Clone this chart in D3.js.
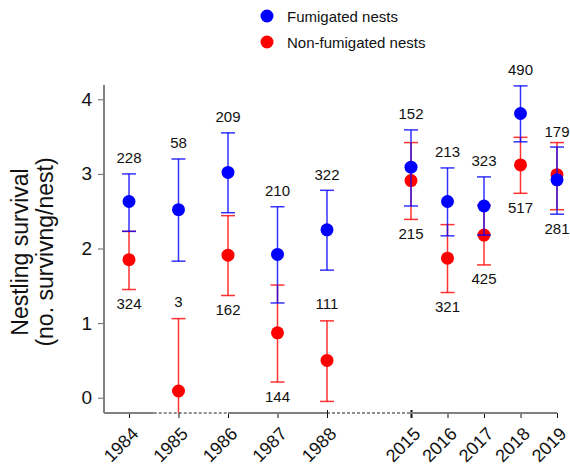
<!doctype html>
<html lang="en">
<head>
  <meta charset="utf-8">
  <title>Nestling survival</title>
  <script type="text/javascript" src="https://cdnjs.cloudflare.com/ajax/libs/d3/7.8.5/d3.min.js"></script>
  <style>
    body { margin: 0; background: #fff; }
    text { font-family: "Liberation Sans", Arial, sans-serif; fill: #111; }
  </style>
</head>
<body>
  <svg width="570" height="468" id="svg"></svg>

<script type="text/javascript">

  // values
  var years = [1984, 1985, 1986, 1987, 1988, 2015, 2016, 2017, 2018, 2019];

  var fumMean = [2.63, 2.52, 3.02, 1.92, 2.25, 3.09, 2.63, 2.57, 3.81, 2.92];
  var fumLo   = [2.23, 1.83, 2.48, 1.27, 1.71, 2.57, 2.17, 2.18, 3.43, 2.46];
  var fumHi   = [3.00, 3.20, 3.55, 2.56, 2.78, 3.59, 3.08, 2.96, 4.18, 3.36];
  var fumN    = [228, 58, 209, 210, 322, 152, 213, 323, 490, 179];

  var nonMean = [1.85, 0.09, 1.91, 0.87, 0.50, 2.91, 1.87, 2.18, 3.12, 2.99];
  var nonLo   = [1.45, -0.88, 1.37, 0.21, -0.05, 2.39, 1.41, 1.78, 2.74, 2.52];
  var nonHi   = [2.23, 1.06, 2.44, 1.51, 1.03, 3.42, 2.32, 2.58, 3.49, 3.42];
  var nonN    = [324, 3, 162, 144, 111, 215, 321, 425, 517, 281];

  // where the non-fumigated n sits relative to its bar
  var nonLabelSide = ['below', 'above', 'below', 'below', 'above',
                      'below', 'below', 'below', 'below', 'below'];

  var yTicks = [0, 1, 2, 3, 4];

  var seriesNames = ['Fumigated nests', 'Non-fumigated nests'];
  var seriesColors = ['#0000ff', '#ff0000'];

  var axisX = 104, axisY = 413, plotTop = 85;

  // broken axis: two sections with their own spacing
  var x = d3.scaleLinear()
        .domain([1984, 1988, 2015, 2019])
        .range([129, 327, 411, 557]);

  var y = d3.scaleLinear()
        .domain([0, 4])
        .range([397.7, 99.3]);

  var svg = d3.select('#svg');

  svg.append('defs').append('clipPath')
    .attr('id', 'plotclip')
    .append('rect')
    .attr('x', axisX).attr('y', plotTop)
    .attr('width', 570 - axisX).attr('height', axisY - plotTop);

  // y axis
  var gy = svg.append('g')
    .attr('transform', 'translate(' + axisX + ',0)')
    .call(d3.axisLeft(y).tickValues(yTicks).tickFormat(d3.format('d')).tickSize(6).tickPadding(6));
  gy.select('.domain').remove();
  gy.selectAll('.tick line').attr('stroke', '#666');
  gy.selectAll('.tick text')
    .style('font-size', '19px')
    .attr('fill', '#111');

  gy.append('line')
    .attr('x1', 0).attr('x2', 0)
    .attr('y1', plotTop).attr('y2', axisY)
    .attr('stroke', '#808080')
    .attr('stroke-width', 2);

  // x axis
  var gx = svg.append('g')
    .attr('transform', 'translate(0,' + axisY + ')')
    .call(d3.axisBottom(x).tickValues(years).tickFormat(d3.format('d')).tickSize(5));
  gx.select('.domain').remove();

  var segments = [
    {from: 1983.5, to: 1984.5, dash: false},
    {from: 1984.5, to: 1986, dash: true},
    {from: 1986, to: 1988, dash: false},
    {from: 1988, to: 2015, dash: true},
    {from: 2015, to: 2019, dash: false}
  ];

  gx.selectAll('.seg')
    .data(segments)
    .enter()
    .append('line')
    .attr('class', 'seg')
    .attr('x1', function(d) { return d.from == 1983.5 ? axisX : x(d.from); })
    .attr('x2', function(d) { return x(d.to); })
    .attr('y1', 0).attr('y2', 0)
    .attr('stroke', function(d) { return d.dash ? '#222' : '#808080'; })
    .attr('stroke-width', function(d) { return d.dash ? 1 : 2; })
    .attr('stroke-dasharray', function(d) { return d.dash ? '3,2' : null; });

  gx.selectAll('.tick line')
    .attr('stroke', '#111')
    .attr('y1', function(d) { return (d == 1988 || d == 2015) ? -3 : 0; })
    .attr('stroke-width', function(d) { return d == 2015 ? 2 : 1; });

  gx.selectAll('.tick text')
    .style('font-size', '18px')
    .attr('fill', '#111')
    .attr('text-anchor', 'end')
    .attr('x', 0).attr('y', 0).attr('dy', 0)
    .attr('transform', 'translate(10,22) rotate(-45)');

  // axis title
  var ylab = svg.append('g');
  ylab.append('text')
    .attr('transform', 'translate(28,252) rotate(-90)')
    .attr('text-anchor', 'middle')
    .style('font-size', '23px')
    .text('Nestling survival');
  ylab.append('text')
    .attr('transform', 'translate(53,252) rotate(-90)')
    .attr('text-anchor', 'middle')
    .style('font-size', '23px')
    .text('(no. survivng/nest)');

  // build one row per year and series
  function rows(mean, lo, hi) {
    return years.map(function(yr, i) {
      return {year: yr, mean: mean[i], lo: lo[i], hi: hi[i]};
    });
  }
  var fum = rows(fumMean, fumLo, fumHi);
  var non = rows(nonMean, nonLo, nonHi);

  var capW = 7;

  function drawSeries(data, color) {
    var g = svg.append('g').attr('clip-path', 'url(#plotclip)');

    var bars = g.selectAll('g.bar')
      .data(data)
      .enter()
      .append('g')
      .attr('class', 'bar')
      .attr('stroke', color)
      .attr('stroke-width', 1.5)
      .attr('stroke-opacity', 0.8);

    bars.append('line')
      .attr('x1', function(d) { return x(d.year); })
      .attr('x2', function(d) { return x(d.year); })
      .attr('y1', function(d) { return y(d.lo); })
      .attr('y2', function(d) { return y(d.hi); });

    bars.append('line')
      .attr('x1', function(d) { return x(d.year) - capW; })
      .attr('x2', function(d) { return x(d.year) + capW; })
      .attr('y1', function(d) { return y(d.hi); })
      .attr('y2', function(d) { return y(d.hi); });

    bars.append('line')
      .attr('x1', function(d) { return x(d.year) - capW; })
      .attr('x2', function(d) { return x(d.year) + capW; })
      .attr('y1', function(d) { return y(d.lo); })
      .attr('y2', function(d) { return y(d.lo); });

    g.selectAll('circle')
      .data(data)
      .enter()
      .append('circle')
      .attr('cx', function(d) { return x(d.year); })
      .attr('cy', function(d) { return y(d.mean); })
      .attr('r', 6.5)
      .attr('fill', color);
  }

  drawSeries(non, seriesColors[1]);
  drawSeries(fum, seriesColors[0]);

  // sample sizes
  svg.append('g')
    .selectAll('text')
    .data(years)
    .enter()
    .append('text')
    .attr('x', function(d) { return x(d); })
    .attr('y', function(d, i) { return y(fumHi[i]) - 10.5; })
    .attr('text-anchor', 'middle')
    .style('font-size', '15px')
    .text(function(d, i) { return fumN[i]; });

  svg.append('g')
    .selectAll('text')
    .data(years)
    .enter()
    .append('text')
    .attr('x', function(d) { return x(d); })
    .attr('y', function(d, i) {
      if (nonLabelSide[i] == 'above') return y(nonHi[i]) - 11.5;
      return y(Math.min(nonLo[i], fumLo[i])) + 19.5;
    })
    .attr('text-anchor', 'middle')
    .style('font-size', '15px')
    .text(function(d, i) { return nonN[i]; });

  // legend
  var legend = svg.append('g')
    .selectAll('g')
    .data(seriesNames)
    .enter()
    .append('g')
    .attr('transform', function(d, i) { return 'translate(267,' + (16 + i * 26) + ')'; });

  legend.append('circle')
    .attr('r', 6.5)
    .attr('fill', function(d, i) { return seriesColors[i]; });

  legend.append('text')
    .attr('x', 20)
    .attr('y', 5.5)
    .style('font-size', '15px')
    .text(function(d) { return d; });

</script>
</body>
</html>
